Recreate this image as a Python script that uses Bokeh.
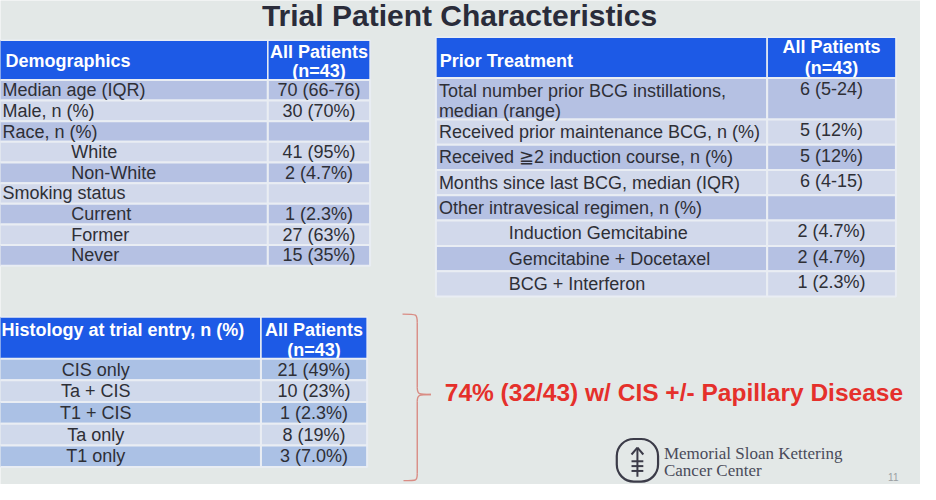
from bokeh.plotting import figure
from bokeh.models import Range1d, ColumnDataSource
from bokeh.core.properties import value
from bokeh.embed import file_html
from bokeh.resources import INLINE

# ---------------- data ----------------
title_text = "Trial Patient Characteristics"
col_header = ["All Patients", "(n=43)"]

demo_header = "Demographics"
demo_labels = ["Median age (IQR)", "Male, n (%)", "Race, n (%)", "White", "Non-White",
               "Smoking status", "Current", "Former", "Never"]
demo_indent = [0, 0, 0, 1, 1, 0, 1, 1, 1]
demo_values = ["70 (66-76)", "30 (70%)", "", "41 (95%)", "2 (4.7%)", "",
               "1 (2.3%)", "27 (63%)", "15 (35%)"]

prior_header = "Prior Treatment"
prior_labels = [["Total number prior BCG instillations,", "median (range)"],
                ["Received prior maintenance BCG, n (%)"],
                ["Received \u22672 induction course, n (%)"],
                ["Months since last BCG, median (IQR)"],
                ["Other intravesical regimen, n (%)"],
                ["Induction Gemcitabine"],
                ["Gemcitabine + Docetaxel"],
                ["BCG + Interferon"]]
prior_indent = [0, 0, 0, 0, 0, 1, 1, 1]
prior_values = ["6 (5-24)", "5 (12%)", "5 (12%)", "6 (4-15)", "", "2 (4.7%)", "2 (4.7%)", "1 (2.3%)"]

hist_header = "Histology at trial entry, n (%)"
hist_labels = ["CIS only", "Ta + CIS", "T1 + CIS", "Ta only", "T1 only"]
hist_values = ["21 (49%)", "10 (23%)", "1 (2.3%)", "8 (19%)", "3 (7.0%)"]

callout_text = "74% (32/43) w/ CIS +/- Papillary Disease"
logo_lines = ["Memorial Sloan Kettering", "Cancer Center"]
page_number = "11"

# ---------------- style ----------------
BG = "#e3e8e7"
HEADER_BLUE = "#1d5ae6"
ROW_DARK = "#b5c1e3"
ROW_LIGHT = "#d2d9eb"
HIST_DARK = "#abc1e5"
HIST_LIGHT = "#d0d9eb"
CELL_LINE = "#e9edf3"
TXT = "#2e2f36"
FONT = value("Liberation Sans")
FS = "18px"

W, H = 920, 484
p = figure(width=W, height=H, output_backend="svg", toolbar_location=None,
           x_range=Range1d(0, 936), y_range=Range1d(500, 0),
           background_fill_color=BG, border_fill_color=BG, min_border=0)
p.axis.visible = False
p.grid.visible = False
p.outline_line_color = None


def text(x, y, t, size=FS, color=TXT, style="normal", align="left", font=FONT, baseline="middle"):
    p.text(x=[x], y=[y], text=[t], text_font=font, text_font_size=size,
           text_color=color, text_font_style=style, text_align=align, text_baseline=baseline)


def table(left, divider, right, header_top, header_bottom, header_label, header_label_x,
          row_tops, row_bottoms, colors, hdr_line1_y, hdr_line2_y, hdr_label_y):
    p.quad(left=[left, divider], right=[divider, right], top=[header_top] * 2,
           bottom=[header_bottom] * 2, fill_color=HEADER_BLUE, line_color=CELL_LINE, line_width=1.5)
    text(header_label_x, hdr_label_y, header_label, color="white", style="bold")
    cx = (divider + right) / 2
    text(cx, hdr_line1_y, col_header[0], color="white", style="bold", align="center")
    text(cx, hdr_line2_y, col_header[1], color="white", style="bold", align="center")
    n = len(row_tops)
    src = ColumnDataSource(dict(
        l=[left] * n + [divider] * n, r=[divider] * n + [right] * n,
        t=list(row_tops) * 2, b=list(row_bottoms) * 2, c=list(colors) * 2))
    p.quad(left="l", right="r", top="t", bottom="b", fill_color="c", source=src,
           line_color=CELL_LINE, line_width=2)
    return cx


# ---- title ----
text(467, 16, title_text, size="30px", color="#2a2c3a", style="bold", align="center")

# ---- Demographics table ----
d_top, d_bot = 82, 274
d_h = (d_bot - d_top) / len(demo_labels)
d_tops = [d_top + i * d_h for i in range(len(demo_labels))]
d_bots = [t + d_h for t in d_tops]
d_cols = [ROW_DARK if i % 2 == 0 else ROW_LIGHT for i in range(len(demo_labels))]
cx = table(-10, 272, 376, 41, 82, demo_header, 5, d_tops, d_bots, d_cols, 53, 73, 62)
for i, (lab, ind, val) in enumerate(zip(demo_labels, demo_indent, demo_values)):
    y = d_tops[i] + d_h / 2
    text(72 if ind else 2, y, lab)
    if val:
        text(cx, y, val, align="center")

# ---- Prior treatment table ----
p_top = 80
single_h = 26.1
p_heights = [43 if len(l) > 1 else single_h for l in prior_labels]
p_tops = []
acc = p_top
for h in p_heights:
    p_tops.append(acc)
    acc += h
p_bots = [t + h for t, h in zip(p_tops, p_heights)]
p_cols = [ROW_DARK if i % 2 == 0 else ROW_LIGHT for i in range(len(prior_labels))]
cx = table(443, 780, 911, 38, 80, prior_header, 447, p_tops, p_bots, p_cols, 48, 70, 62)
for i, (lines, ind, val) in enumerate(zip(prior_labels, prior_indent, prior_values)):
    if len(lines) == 1:
        ys = [p_tops[i] + p_heights[i] / 2]
    else:
        ys = [p_tops[i] + 13 + k * 21 for k in range(len(lines))]
    for y, t in zip(ys, lines):
        text(517 if ind else 446, y, t)
    if val:
        text(cx, ys[0] - 2, val, align="center")

# ---- Histology table ----
h_top, h_bot = 370, 482
h_h = (h_bot - h_top) / len(hist_labels)
h_tops = [h_top + i * h_h for i in range(len(hist_labels))]
h_bots = [t + h_h for t in h_tops]
h_cols = [HIST_DARK if i % 2 == 0 else HIST_LIGHT for i in range(len(hist_labels))]
cx = table(-10, 265, 373, 327, 370, hist_header, 1, h_tops, h_bots, h_cols, 340, 361, 340)
for i, (lab, val) in enumerate(zip(hist_labels, hist_values)):
    y = h_tops[i] + h_h / 2
    text(97, y, lab, align="center")
    text(cx, y, val, align="center")

# ---- brace ----
BR = "#d98c84"
p.bezier(x0=[409, 424, 438, 424], y0=[324, 400, 407, 489],
         x1=[424, 438, 424, 410], y1=[333, 407, 414, 496],
         cx0=[424, 424, 426, 424], cy0=[324, 407, 407, 496],
         cx1=[424, 426, 424, 424], cy1=[324, 407, 407, 496],
         line_color=BR, line_width=1.4)
p.segment(x0=[424, 424], y0=[333, 414], x1=[424, 424], y1=[400, 489], line_color=BR, line_width=1.4)

# ---- callout ----
text(452, 405, callout_text, size="24.5px", color="#e5302b", style="bold")

# ---- logo ----
LOGO = "#3b3b48"
p.quad(left=[627], right=[669], top=[453], bottom=[497], fill_color=None,
       line_color=LOGO, line_width=2.2, border_radius=17)
p.segment(x0=[648, 642, 648, 642, 642, 642], y0=[462, 469, 462, 476, 481, 486],
          x1=[648, 648, 654, 654, 654, 654], y1=[492, 462, 469, 476, 481, 486],
          line_color=LOGO, line_width=2)
text(675, 468, logo_lines[0], size="17px", color="#4a4b5a", font=value("Liberation Serif"))
text(675, 486, logo_lines[1], size="17px", color="#4a4b5a", font=value("Liberation Serif"))
text(903, 492, page_number, size="10px", color="#9a9ea2")

open("out.html", "w").write(file_html(p, INLINE))
